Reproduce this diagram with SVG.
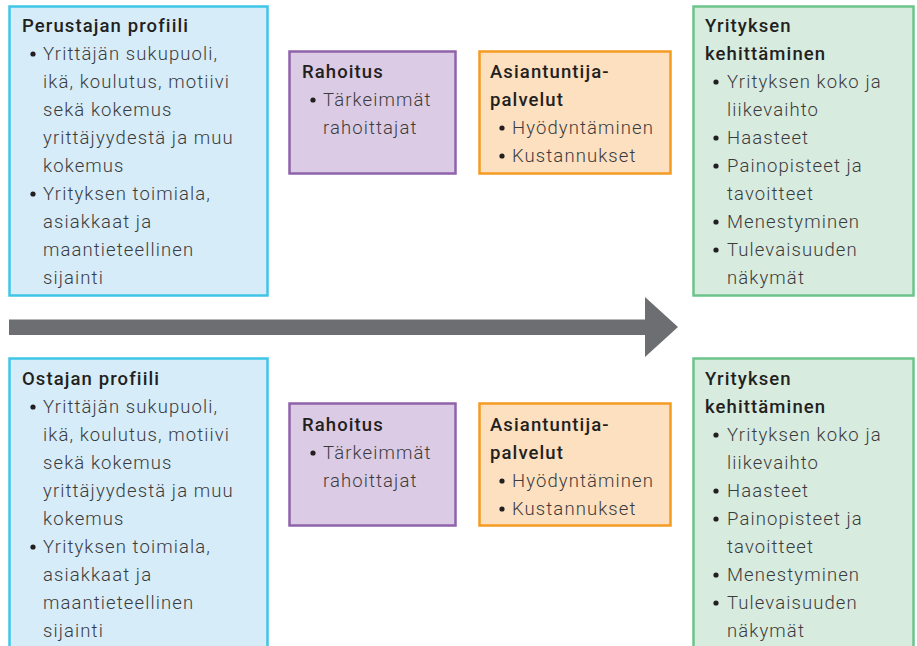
<svg xmlns="http://www.w3.org/2000/svg" width="917" height="646" viewBox="0 0 917 646">
<style>
.blue{fill:#d6ecf8;stroke:#3fc5e8;stroke-width:2.5}
.purple{fill:#dccbe5;stroke:#8e63aa;stroke-width:2.5}
.orange{fill:#fde0bf;stroke:#f49b22;stroke-width:2.5}
.green{fill:#d8ebdf;stroke:#6cc48b;stroke-width:2.5}
text{font-family:Roboto,"Liberation Sans",sans-serif;font-size:18.5px;letter-spacing:1.1px}
.t{font-weight:500;fill:#231f20}
.b{font-weight:300;fill:#3b3b3d}
.dot{fill:#231f20}
</style>

<g id="perustajan-profiili">
<rect class="blue" x="9.5" y="6.5" width="258" height="289"/>
<text class="t" x="22" y="32">Perustajan profiili</text>
<circle class="dot" cx="33" cy="54" r="2.6"/>
<circle class="dot" cx="33" cy="194" r="2.6"/>
<text class="b"><tspan x="43" y="60">Yrittäjän sukupuoli,</tspan><tspan x="43" y="88">ikä, koulutus, motiivi</tspan><tspan x="43" y="116">sekä kokemus</tspan><tspan x="43" y="144">yrittäjyydestä ja muu</tspan><tspan x="43" y="172">kokemus</tspan><tspan x="43" y="200">Yrityksen toimiala,</tspan><tspan x="43" y="228">asiakkaat ja</tspan><tspan x="43" y="256">maantieteellinen</tspan><tspan x="43" y="284">sijainti</tspan></text>
</g>

<g id="rahoitus-1">
<rect class="purple" x="289.5" y="51.5" width="166" height="122"/>
<text class="t" x="302" y="78">Rahoitus</text>
<circle class="dot" cx="313" cy="100" r="2.6"/>
<text class="b"><tspan x="323" y="106">Tärkeimmät</tspan><tspan x="323" y="134">rahoittajat</tspan></text>
</g>

<g id="asiantuntija-1">
<rect class="orange" x="479.5" y="51.5" width="191" height="122"/>
<text class="t"><tspan x="490" y="78">Asiantuntija-</tspan><tspan x="490" y="106">palvelut</tspan></text>
<circle class="dot" cx="502" cy="128" r="2.6"/>
<circle class="dot" cx="502" cy="156" r="2.6"/>
<text class="b"><tspan x="512" y="134">Hyödyntäminen</tspan><tspan x="512" y="162">Kustannukset</tspan></text>
</g>

<g id="kehittaminen-1">
<rect class="green" x="693.5" y="6.5" width="220" height="289"/>
<text class="t"><tspan x="705" y="32">Yrityksen</tspan><tspan x="705" y="60">kehittäminen</tspan></text>
<circle class="dot" cx="716" cy="82" r="2.6"/>
<circle class="dot" cx="716" cy="138" r="2.6"/>
<circle class="dot" cx="716" cy="166" r="2.6"/>
<circle class="dot" cx="716" cy="222" r="2.6"/>
<circle class="dot" cx="716" cy="250" r="2.6"/>
<text class="b"><tspan x="727" y="88">Yrityksen koko ja</tspan><tspan x="727" y="116">liikevaihto</tspan><tspan x="727" y="144">Haasteet</tspan><tspan x="727" y="172">Painopisteet ja</tspan><tspan x="727" y="200">tavoitteet</tspan><tspan x="727" y="228">Menestyminen</tspan><tspan x="727" y="256">Tulevaisuuden</tspan><tspan x="727" y="284">näkymät</tspan></text>
</g>

<g id="connectors">
<path d="M9 319.5 H645 V297 L678 327 L645 357 V335 H9 Z" fill="#6d6e71"/>
</g>

<g id="ostajan-profiili">
<rect class="blue" x="9.5" y="358.5" width="258" height="300"/>
<text class="t" x="22" y="385">Ostajan profiili</text>
<circle class="dot" cx="33" cy="407" r="2.6"/>
<circle class="dot" cx="33" cy="547" r="2.6"/>
<text class="b"><tspan x="43" y="413">Yrittäjän sukupuoli,</tspan><tspan x="43" y="441">ikä, koulutus, motiivi</tspan><tspan x="43" y="469">sekä kokemus</tspan><tspan x="43" y="497">yrittäjyydestä ja muu</tspan><tspan x="43" y="525">kokemus</tspan><tspan x="43" y="553">Yrityksen toimiala,</tspan><tspan x="43" y="581">asiakkaat ja</tspan><tspan x="43" y="609">maantieteellinen</tspan><tspan x="43" y="637">sijainti</tspan></text>
</g>

<g id="rahoitus-2">
<rect class="purple" x="289.5" y="403.5" width="166" height="122"/>
<text class="t" x="302" y="431">Rahoitus</text>
<circle class="dot" cx="313" cy="453" r="2.6"/>
<text class="b"><tspan x="323" y="459">Tärkeimmät</tspan><tspan x="323" y="487">rahoittajat</tspan></text>
</g>

<g id="asiantuntija-2">
<rect class="orange" x="479.5" y="403.5" width="191" height="122"/>
<text class="t"><tspan x="490" y="431">Asiantuntija-</tspan><tspan x="490" y="459">palvelut</tspan></text>
<circle class="dot" cx="502" cy="481" r="2.6"/>
<circle class="dot" cx="502" cy="509" r="2.6"/>
<text class="b"><tspan x="512" y="487">Hyödyntäminen</tspan><tspan x="512" y="515">Kustannukset</tspan></text>
</g>

<g id="kehittaminen-2">
<rect class="green" x="693.5" y="358.5" width="220" height="300"/>
<text class="t"><tspan x="705" y="385">Yrityksen</tspan><tspan x="705" y="413">kehittäminen</tspan></text>
<circle class="dot" cx="716" cy="435" r="2.6"/>
<circle class="dot" cx="716" cy="491" r="2.6"/>
<circle class="dot" cx="716" cy="519" r="2.6"/>
<circle class="dot" cx="716" cy="575" r="2.6"/>
<circle class="dot" cx="716" cy="603" r="2.6"/>
<text class="b"><tspan x="727" y="441">Yrityksen koko ja</tspan><tspan x="727" y="469">liikevaihto</tspan><tspan x="727" y="497">Haasteet</tspan><tspan x="727" y="525">Painopisteet ja</tspan><tspan x="727" y="553">tavoitteet</tspan><tspan x="727" y="581">Menestyminen</tspan><tspan x="727" y="609">Tulevaisuuden</tspan><tspan x="727" y="637">näkymät</tspan></text>
</g>
</svg>
